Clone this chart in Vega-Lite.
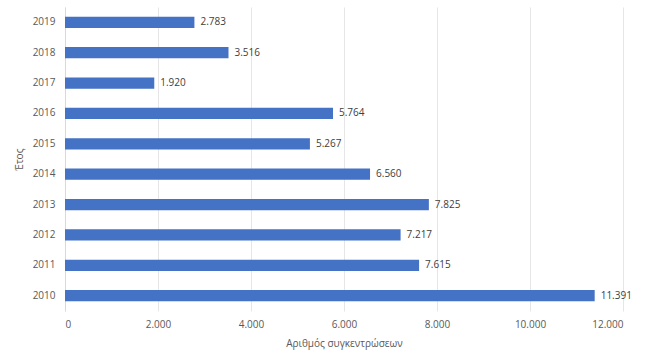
{
  "$schema": "https://vega.github.io/schema/vega-lite/v6.json",
  "autosize": "none",
  "width": 558,
  "height": 304,
  "padding": {"left": 65, "top": 7, "right": 27, "bottom": 49},
  "background": "white",
  "config": {
    "locale": {"number": {"decimal": ",", "thousands": ".", "grouping": [3], "currency": ["€", ""]}},
    "view": {"stroke": null},
    "font": "Open Sans"
  },
  "data": {
    "values": [
      {"year": "2010", "value": 11391},
      {"year": "2011", "value": 7615},
      {"year": "2012", "value": 7217},
      {"year": "2013", "value": 7825},
      {"year": "2014", "value": 6560},
      {"year": "2015", "value": 5267},
      {"year": "2016", "value": 5764},
      {"year": "2017", "value": 1920},
      {"year": "2018", "value": 3516},
      {"year": "2019", "value": 2783}
    ]
  },
  "encoding": {
    "y": {
      "field": "year",
      "type": "nominal",
      "sort": "descending",
      "scale": {"paddingInner": 0.63, "paddingOuter": 0.32},
      "axis": {
        "title": "Έτος",
        "titleFont": "Open Sans",
        "titleFontSize": 10,
        "titleFontWeight": "normal",
        "titleColor": "#595959",
        "titlePadding": 8,
        "labelFontSize": 10,
        "labelColor": "#595959",
        "labelPadding": 10,
        "ticks": false,
        "domainColor": "#d9d9d9",
        "grid": false
      }
    },
    "x": {
      "field": "value",
      "type": "quantitative",
      "scale": {"domain": [0, 12000], "nice": false},
      "axis": {
        "title": "Αριθμός συγκεντρώσεων",
        "titleFontSize": 10,
        "titleFontWeight": "normal",
        "titleColor": "#595959",
        "titlePadding": 9,
        "values": [0, 2000, 4000, 6000, 8000, 10000, 12000],
        "format": ",d",
        "labelFontSize": 10,
        "labelColor": "#595959",
        "labelPadding": 8,
        "ticks": false,
        "domain": false,
        "grid": true,
        "gridColor": "#e6e6e6"
      }
    }
  },
  "layer": [
    {"mark": {"type": "bar", "color": "#4472c4"}},
    {
      "mark": {"type": "text", "align": "left", "dx": 6, "fontSize": 10, "color": "#404040"},
      "encoding": {"text": {"field": "value", "type": "quantitative", "format": ",d"}}
    }
  ]
}
